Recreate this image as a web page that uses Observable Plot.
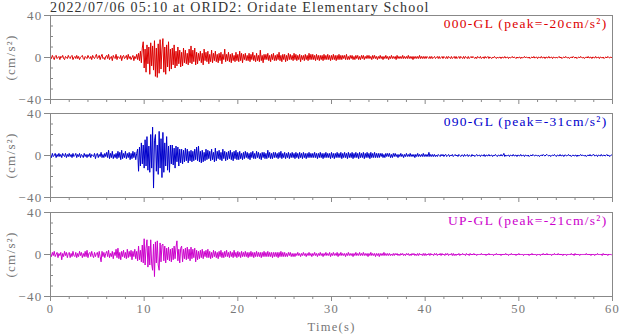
<!DOCTYPE html>
<html><head><meta charset="utf-8">
<script src="https://cdn.jsdelivr.net/npm/d3@7"></script>
<script src="https://cdn.jsdelivr.net/npm/@observablehq/plot@0.6"></script>
<style>
body{margin:0;background:#fff;}
#chart{position:relative;width:620px;height:334px;font-family:"Liberation Serif",serif;overflow:hidden;}
#title{position:absolute;left:50px;top:0px;font-size:14px;line-height:15px;letter-spacing:1.2px;color:#333;white-space:nowrap;}
.panel{position:absolute;left:0;}
.panel text.chan{letter-spacing:1.8px;}
</style></head><body>
<div id="chart"><div id="title"></div></div>
<script>
const title = "2022/07/06 05:10 at ORID2: Oridate Elementary School";
const xLabel = "Time(s)";
const yLabel = "(cm/s²)";
const sampleInterval = 0.1; // seconds between values
const channels = ["000-GL", "090-GL", "UP-GL"];
const peaks = [-20, -31, -21];
const colors = ["#dd0000", "#0000cc", "#cc00cc"];
const xMajorTicks = [0, 10, 20, 30, 40, 50, 60];
const xMinorTicks = [2, 4, 6, 8, 12, 14, 16, 18, 22, 24, 26, 28, 32, 34, 36, 38, 42, 44, 46, 48, 52, 54, 56, 58];
const yMajorTicks = [-40, 0, 40];
const yMinorTicks = [-30, -20, -10, 10, 20, 30];

const acc000 = [
1,-1,2,0,-2,1,2,-1,0,1,
-2,1,0,2,-1,-2,1,0,-1,2,
0,-1,1,2,-2,0,1,-1,2,-1,
1,-2,0,1,2,-1,-2,1,0,-1,
2,0,-1,1,-2,2,0,-1,1,3,
-1,0,2,-2,1,3,-1,0,-2,1,
2,-1,3,-2,0,1,-3,2,0,-1,
3,-2,1,0,-1,2,-3,1,2,-1,
0,2,-2,3,-1,1,-2,0,2,-3,
1,-1,3,-2,4,-3,6,-5,9,15,
-10,8,-14,12,-6,10,-16,14,-8,11,
-12,16,-18,9,-19,13,-15,17,-11,8,
18,-14,10,-16,12,-9,15,-13,8,-11,
9,-7,12,-10,6,-8,10,-6,7,-9,
5,-8,9,-5,7,-6,4,-7,8,-5,
11,-6,7,-4,9,-7,5,-6,4,-3,
6,-5,4,-7,8,-3,5,-4,6,-6,
3,-4,7,-5,4,-3,6,-4,3,-5,
4,-3,5,-6,3,-2,8,-4,3,-3,
5,-4,3,-5,4,-3,2,-4,5,-3,
3,-4,6,-3,4,-5,3,-2,4,-3,
2,-3,4,-4,3,-2,5,-3,2,-4,
4,-3,2,-4,7,-3,2,-5,3,-2,
3,-2,4,-3,2,-4,3,-2,4,-3,
2,-3,3,-2,5,-3,2,-4,3,-2,
3,-4,2,-3,4,-2,3,-2,2,-3,
4,-2,3,-3,2,-2,3,-4,2,-2,
2,-3,3,-2,2,-3,4,-2,3,-2,
3,-2,2,-3,3,-2,2,-3,2,-2,
2,-3,3,-2,2,-2,3,-2,2,-3,
2,-2,3,-2,2,-3,2,-2,3,-2,
2,-2,2,-1,2,-2,3,-2,1,-2,
2,-1,2,-2,1,-2,2,-1,2,-2,
1,-2,2,-1,2,-2,1,-1,2,-1,
2,-1,1,-2,2,-1,2,-1,1,-2,
1,-1,2,-1,1,-2,1,-1,2,-1,
1,-2,1,-1,2,-1,1,-1,1,-2,
2,-1,1,-1,1,-1,2,-1,1,-1,
1,-1,2,-1,1,-1,1,-2,1,-1,
1,-1,1,-1,2,-1,1,-1,1,-1,
1,-1,1,0,-1,1,-1,1,-1,0,
1,-1,0,1,-1,1,-1,0,1,-1,
1,0,-1,1,-1,1,0,-1,1,-1,
0,1,-1,1,-1,0,1,-1,1,0,
-1,1,-1,1,0,-1,1,-1,0,1,
-0.5,1,0,-1,0.5,-1,1,0,-0.5,1,
-1,0,0.5,-1,1,-0.5,0,1,-1,0.5,
0,-1,0.5,-0.5,1,0,-1,0.5,-0.5,0,
0.5,-1,0.5,0,-0.5,1,-0.5,0,0.5,-1,
0.5,-0.5,0,1,-0.5,0.5,0,-1,0.5,-0.5,
0,0.5,-1,0.5,-0.5,0,1,-0.5,0.5,0,
-0.5,0.5,-1,0,0.5,-0.5,1,-0.5,0,0.5,
-1,0.5,0,-0.5,1,-0.5,0,0.5,-1,0.5,
0,-0.5,1,-0.5,0,0.5,-1,0.5,0,-0.5,
0.5,-0.5,0,1,-0.5,0.5,-1,0,0.5,-0.5,
1,0,-0.5,0.5,-1,0,0.5,-0.5,1,0,
-0.5,0.5,-1,0,0.5,-0.5,1,0,-0.5,0.5,
-1,0,0.5,-0.5,1,-0.5,0,0.5,-1,0.5,
0,-0.5,1,-0.5,0,0.5,-1,0.5,0,-0.5,
0.5,-1,0,0.5,-0.5,1,0,-0.5,0.5,0
];

const acc090 = [
1,-2,2,-1,0,2,-2,1,-1,2,
-1,1,-2,2,0,-1,2,-2,1,-1,
2,-1,1,-2,2,-1,0,2,-2,1,
-1,2,-2,1,0,-2,2,-1,1,-2,
1,-1,2,-2,1,0,-1,2,-3,1,
2,-2,1,-1,3,-2,1,-2,2,-1,
3,-2,5,-3,2,-2,4,-3,1,-2,
2,-3,4,-2,3,-4,5,-3,2,-2,
4,-3,2,-2,3,-4,2,-3,4,-2,
3,-4,2,6,-15,8,-10,12,-8,10,
-12,15,-10,18,-14,9,-16,20,-12,27,
-31,14,20,-15,10,-18,23,-12,16,-21,
22,-16,12,-10,18,-14,9,-16,10,-8,
10,-9,7,-12,9,-6,8,-10,6,-7,
6,-8,5,-6,7,-5,6,-7,4,-5,
5,-6,4,-5,6,-4,8,-5,9,-6,
4,-7,5,-6,3,-5,6,-4,5,-3,
4,-5,6,-4,3,-6,7,-5,4,-3,
5,-4,3,-5,6,-3,4,-5,3,-4,
4,-3,5,-4,3,-5,4,-3,5,-4,
3,-4,4,-3,2,-4,3,-3,4,-2,
3,-3,2,-4,3,-2,4,-3,2,-3,
4,-2,3,-3,2,-4,3,-2,3,-3,
2,-3,5,-2,3,-3,2,-3,3,-2,
3,-2,2,-3,3,-2,4,-3,2,-2,
3,-3,2,-2,3,-3,2,-2,3,-2,
2,-3,3,-2,2,-3,3,-2,2,-3,
3,-2,2,-3,2,-2,3,-2,2,-2,
2,-2,3,-2,2,-3,2,-2,3,-2,
2,-3,2,-2,3,-2,2,-2,2,-3,
3,-2,2,-3,2,-2,3,-2,2,-2,
3,-3,2,-2,3,-2,2,-3,3,-2,
2,-2,3,-3,2,-2,3,-2,2,-3,
3,-2,2,-2,3,-3,2,-2,3,-2,
2,-3,3,-2,2,-2,3,-2,2,-2,
2,-2,2,-1,2,-2,1,-2,2,-1,
2,-1,2,-2,1,-2,2,-1,2,-1,
1,-2,1,-1,2,-1,1,-2,1,-1,
2,-1,1,-1,2,-1,1,-1,1,-2,
1,-1,2,-1,1,-1,1,-1,2,-1,
1,-1,1,-1,3,-1,1,-1,1,-1,
1,-1,0.5,-1,1,0,-1,1,-0.5,1,
-1,0.5,1,-1,0,1,-1,0.5,-0.5,1,
-1,0,1,-0.5,0.5,-1,1,0,-1,0.5,
0.5,-1,1,-0.5,0,1,-1,0.5,0,-1,
1,-0.5,0.5,-1,0,1,-0.5,0,0.5,-1,
0.5,0,-0.5,1,-1,0.5,0,-0.5,1,-0.5,
0,0.5,-1,0.5,-0.5,1,0,-1,0.5,0,
-0.5,1,-0.5,0,2,-1,0.5,-0.5,0,0.5,
-1,0.5,0,-0.5,1,-0.5,0,0.5,-1,0.5,
0,-0.5,1,-0.5,0,0.5,-1,0.5,0,-0.5,
0.5,-1,0,0.5,-0.5,1,0,-0.5,0.5,0,
-0.5,0.5,-1,0,0.5,-0.5,1,0,-0.5,0.5,
1,0,-0.5,0.5,-1,0,0.5,-0.5,1,0,
-1,0.5,0,-0.5,1,-0.5,0,0.5,-1,0.5,
0.5,-0.5,0,1,-0.5,0.5,-1,0,0.5,-0.5,
0,0.5,-1,0.5,-0.5,0,1,-0.5,0.5,0,
-0.5,0.5,-1,0,0.5,-0.5,1,-0.5,0,0.5,
1,-0.5,0,0.5,-1,0.5,0,-0.5,1,-0.5,
0,0.5,-0.5,0,1,-0.5,0.5,-1,0,0.5
];

const accUP = [
1,-2,2,-1,3,-2,0,2,-3,1,
-1,2,-5,1,-2,3,-1,2,-3,1,
2,-3,1,-2,3,-1,-2,2,-3,1,
-2,3,-1,2,-3,1,-2,3,-2,4,
-3,1,2,-2,3,-1,-3,2,-2,1,
2,-3,3,-2,-7,3,-2,2,-3,1,
3,-2,4,-3,1,-2,3,-4,2,-1,
5,-3,6,-4,2,-5,3,-2,4,-3,
2,-4,5,-3,3,-2,4,-5,3,-2,
5,-4,3,-6,8,-5,4,-7,9,-8,
15,-10,6,14,-12,8,-10,14,-9,-15,
10,-21,12,-8,13,-10,-15,11,-7,9,
10,-6,8,-8,6,-5,7,-6,5,-7,
6,-5,8,-4,7,13,-6,5,-8,6,
8,-7,5,-4,6,-5,7,-4,5,-6,
7,-4,5,-3,6,-7,4,-5,3,-4,
4,-3,5,-4,3,-2,4,-3,5,-3,
3,-4,2,-3,4,-2,3,-3,2,-4,
3,-2,4,-3,2,-3,3,-2,4,-2,
2,-3,3,-2,2,-3,4,-2,2,-3,
3,-2,2,-3,3,-2,2,-2,3,-2,
2,-3,2,-2,3,-2,2,-3,2,-2,
3,-2,2,-2,2,-3,2,-2,3,-2,
2,-2,3,-2,2,-2,2,-3,2,-2,
2,-2,2,-3,2,-2,3,-2,2,-2,
2,-2,1,-2,2,-1,2,-2,1,-2,
1,-2,1,-1,2,-1,1,-2,1,-1,
2,-1,1,-2,1,-1,2,-1,1,-2,
1,-1,2,-1,1,-2,1,-1,2,-1,
1,-2,1,-1,2,-1,1,-1,2,-2,
1,-1,2,-1,1,-1,2,-2,1,-1,
2,-1,1,-1,1,-2,1,-1,2,-1,
1,-1,1,-2,1,-1,2,-1,1,-1,
2,-1,1,-1,2,-1,1,-1,1,-2,
1,-1,2,-1,1,-1,1,-2,1,-1,
1,-2,1,-1,1,-1,2,-1,1,-1,
1,-1,1,-1,0.5,-1,1,-1,1,-0.5,
1,-1,0.5,-1,1,-0.5,1,-1,0.5,-1,
1,-0.5,1,-1,0.5,-1,1,-0.5,1,-1,
0.5,-1,1,-1,1,-0.5,0.5,-1,1,-1,
1,-1,0.5,-0.5,1,-1,1,-0.5,0.5,-1,
1,-0.5,1,-1,0.5,-0.5,1,-1,1,-0.5,
0.5,-1,1,-0.5,1,-1,0.5,-0.5,1,-1,
1,-1,0.5,-1,0.5,-0.5,1,-1,0.5,-0.5,
1,-0.5,0.5,-1,1,-0.5,0.5,-1,1,-0.5,
0.5,-0.5,1,-0.5,0.5,-1,0.5,-0.5,0.5,-0.5,
1,-0.5,0.5,-0.5,0.5,-1,0.5,-0.5,1,-0.5,
0.5,-0.5,0.5,-1,0.5,-0.5,1,-0.5,0.5,-0.5,
0.5,-1,0.5,-0.5,0.5,-0.5,1,-0.5,0.5,-1,
0.5,-0.5,1,-0.5,0.5,-0.5,0.5,-1,0.5,-0.5,
1,-0.5,0.5,-0.5,0.5,-1,0.5,-0.5,0.5,-0.5,
0.5,-1,0.5,-0.5,1,-0.5,0.5,-0.5,0.5,-1,
0.5,-0.5,0.5,-1,0.5,-0.5,1,-0.5,0.5,-0.5,
1,-0.5,0.5,-0.5,0.5,-1,0.5,-0.5,1,-0.5,
0.5,-0.5,1,-0.5,0.5,-0.5,0.5,-1,0.5,-0.5,
0.5,-1,0.5,-0.5,0.5,-0.5,1,-0.5,0.5,-1,
1,-0.5,0.5,-0.5,0.5,-1,0.5,-0.5,0.5,-0.5,
0.5,-0.5,1,-0.5,0.5,-0.5,0.5,-1,0.5,-0.5,
0.5,-1,0.5,-0.5,1,-0.5,0.5,-0.5,0.5,-1,
1,-0.5,0.5,-0.5,0.5,-1,0.5,-0.5,0.5,-0.5
];

const traces = [acc000, acc090, accUP];
const panelTops = [0, 98, 197];

document.getElementById("title").textContent = title;
const chart = document.getElementById("chart");

traces.forEach((values, i) => {
  const last = i === traces.length - 1;
  const rows = values.map((v, k) => ({t: k * sampleInterval, a: v}));
  const label = `${channels[i]} (peak=${peaks[i]}cm/s²)`;
  const svg = Plot.plot({
    width: 620,
    height: last ? 137 : 109,
    marginLeft: 50,
    marginRight: 8,
    marginTop: 15,
    marginBottom: last ? 38 : 10,
    style: {background: "transparent", fontFamily: "Liberation Serif", fontSize: "12.5px", color: "#777", letterSpacing: "1.3px"},
    x: {domain: [0, 60]},
    y: {domain: [-40, 40]},
    marks: [
      Plot.axisY(yMajorTicks, {tickSize: 6, tickPadding: 2, stroke: "#888", label: yLabel, labelAnchor: "center", labelArrow: "none", labelOffset: 45, fontSize: 13}),
      Plot.axisY(yMinorTicks, {tickSize: 3, inset: 3, stroke: "#888", fill: "none", label: null}),
      last
        ? Plot.axisX(xMajorTicks, {tickSize: 5, tickPadding: 3, stroke: "#888", label: xLabel, labelAnchor: "center", labelArrow: "none", labelOffset: 34})
        : Plot.axisX(xMajorTicks, {tickSize: 5, stroke: "#888", fill: "none", label: null}),
      Plot.axisX(xMinorTicks, {tickSize: 3, stroke: "#888", fill: "none", label: null}),
      Plot.line(rows, {x: "t", y: "a", stroke: colors[i], strokeWidth: 1}),
      Plot.frame({stroke: "#888"}),
      Plot.text([label], {frameAnchor: "top-right", dx: -5, dy: 3, lineAnchor: "top", fill: colors[i], fontSize: 13.5, className: "chan"})
    ]
  });
  svg.classList.add("panel");
  svg.style.top = panelTops[i] + "px";
  chart.appendChild(svg);
});
</script>
</body></html>
